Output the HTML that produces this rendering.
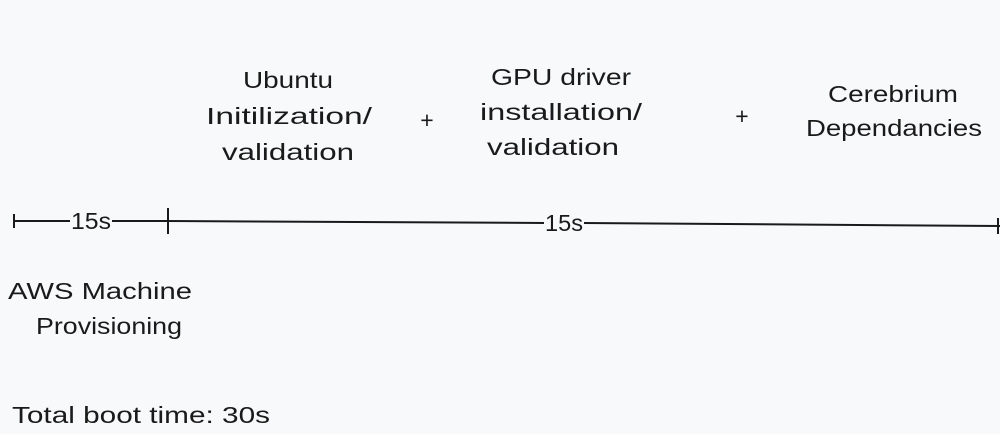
<!DOCTYPE html>
<html><head><meta charset="utf-8"><style>
html,body{margin:0;padding:0;background:#f8f9fb;}
svg{display:block}
text{font-family:"Liberation Sans",sans-serif;font-size:23px;fill:#1a1a1a}
</style></head><body>
<svg width="1000" height="434" viewBox="0 0 1000 434" xmlns="http://www.w3.org/2000/svg">
<rect width="1000" height="434" fill="#f8f9fb"/>
<g text-anchor="middle">
<text x="288" y="88" textLength="90" lengthAdjust="spacingAndGlyphs">Ubuntu</text>
<text x="289" y="124" textLength="166" lengthAdjust="spacingAndGlyphs">Initilization/</text>
<text x="288" y="160" textLength="132" lengthAdjust="spacingAndGlyphs">validation</text>
<text x="427" y="128" font-size="26">+</text>
<text x="561" y="85" textLength="140" lengthAdjust="spacingAndGlyphs">GPU driver</text>
<text x="561" y="120" textLength="162" lengthAdjust="spacingAndGlyphs">installation/</text>
<text x="553" y="155" textLength="132" lengthAdjust="spacingAndGlyphs">validation</text>
<text x="742" y="124" font-size="26">+</text>
<text x="893" y="102" textLength="130" lengthAdjust="spacingAndGlyphs">Cerebrium</text>
<text x="894" y="136" textLength="176" lengthAdjust="spacingAndGlyphs">Dependancies</text>
</g>
<g stroke="#1a1a1a" stroke-width="2" fill="none">
<line x1="14" y1="214" x2="14" y2="228"/>
<line x1="14" y1="221" x2="168" y2="221"/>
<line x1="168" y1="208" x2="168" y2="234"/>
<line x1="168" y1="221" x2="545" y2="223"/>
<line x1="583" y1="223" x2="1000" y2="226"/>
<line x1="998" y1="218" x2="998" y2="234"/>
</g>
<rect x="70" y="210" width="42" height="22" fill="#f8f9fb"/>
<text x="71" y="229" textLength="40" lengthAdjust="spacingAndGlyphs">15s</text>
<rect x="544" y="212" width="40" height="22" fill="#f8f9fb"/>
<text x="545" y="231" textLength="38" lengthAdjust="spacingAndGlyphs">15s</text>
<text x="8" y="299" textLength="184" lengthAdjust="spacingAndGlyphs">AWS Machine</text>
<text x="36" y="334" textLength="146" lengthAdjust="spacingAndGlyphs">Provisioning</text>
<text x="12" y="423" textLength="258" lengthAdjust="spacingAndGlyphs">Total boot time: 30s</text>
</svg>
</body></html>
